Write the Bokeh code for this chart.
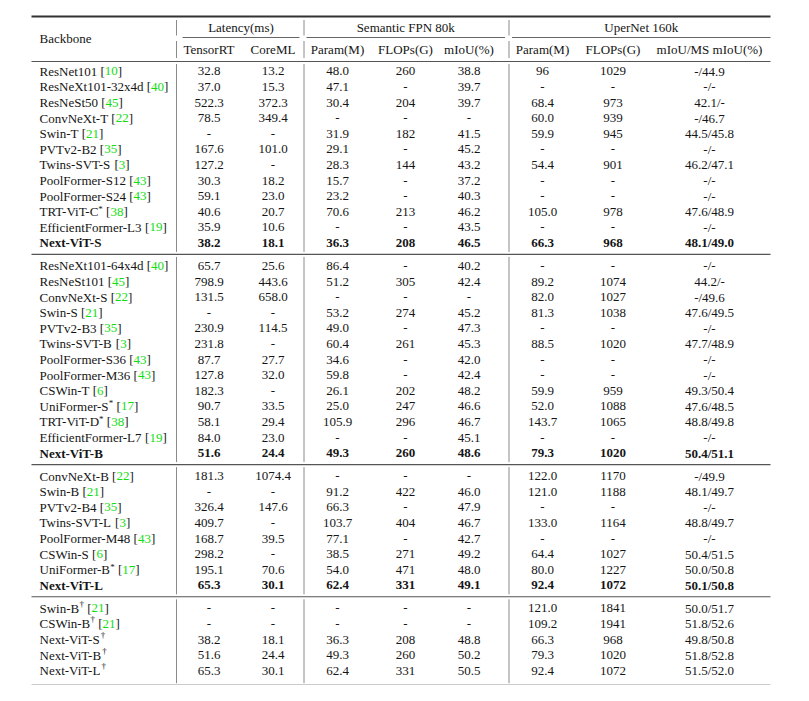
from bokeh.plotting import figure
from bokeh.models import Range1d
from bokeh.embed import file_html
from bokeh.resources import INLINE
from bokeh.core.properties import value

# ---------------- data ----------------
names = [
    "ResNet101", "ResNeXt101-32x4d", "ResNeSt50", "ConvNeXt-T", "Swin-T", "PVTv2-B2",
    "Twins-SVT-S", "PoolFormer-S12", "PoolFormer-S24", "TRT-ViT-C", "EfficientFormer-L3", "Next-ViT-S",
    "ResNeXt101-64x4d", "ResNeSt101", "ConvNeXt-S", "Swin-S", "PVTv2-B3", "Twins-SVT-B",
    "PoolFormer-S36", "PoolFormer-M36", "CSWin-T", "UniFormer-S", "TRT-ViT-D", "EfficientFormer-L7", "Next-ViT-B",
    "ConvNeXt-B", "Swin-B", "PVTv2-B4", "Twins-SVT-L", "PoolFormer-M48", "CSWin-S", "UniFormer-B", "Next-ViT-L",
    "Swin-B", "CSWin-B", "Next-ViT-S", "Next-ViT-B", "Next-ViT-L",
]
marks = [
    "", "", "", "", "", "", "", "", "", "*", "", "",
    "", "", "", "", "", "", "", "", "", "*", "*", "", "",
    "", "", "", "", "", "", "*", "",
    "\u2020", "\u2020", "\u2020", "\u2020", "\u2020",
]
cites = [
    "10", "40", "45", "22", "21", "35", "3", "43", "43", "38", "19", "",
    "40", "45", "22", "21", "35", "3", "43", "43", "6", "17", "38", "19", "",
    "22", "21", "35", "3", "43", "6", "17", "",
    "21", "21", "", "", "",
]
groups = [0] * 12 + [1] * 13 + [2] * 8 + [3] * 5
bold = [False] * 11 + [True] + [False] * 12 + [True] + [False] * 7 + [True] + [False] * 5

tensorrt = ["32.8", "37.0", "522.3", "78.5", "-", "167.6", "127.2", "30.3", "59.1", "40.6", "35.9", "38.2",
            "65.7", "798.9", "131.5", "-", "230.9", "231.8", "87.7", "127.8", "182.3", "90.7", "58.1", "84.0", "51.6",
            "181.3", "-", "326.4", "409.7", "168.7", "298.2", "195.1", "65.3",
            "-", "-", "38.2", "51.6", "65.3"]
coreml = ["13.2", "15.3", "372.3", "349.4", "-", "101.0", "-", "18.2", "23.0", "20.7", "10.6", "18.1",
          "25.6", "443.6", "658.0", "-", "114.5", "-", "27.7", "32.0", "-", "33.5", "29.4", "23.0", "24.4",
          "1074.4", "-", "147.6", "-", "39.5", "-", "70.6", "30.1",
          "-", "-", "18.1", "24.4", "30.1"]
fpn_param = ["48.0", "47.1", "30.4", "-", "31.9", "29.1", "28.3", "15.7", "23.2", "70.6", "-", "36.3",
             "86.4", "51.2", "-", "53.2", "49.0", "60.4", "34.6", "59.8", "26.1", "25.0", "105.9", "-", "49.3",
             "-", "91.2", "66.3", "103.7", "77.1", "38.5", "54.0", "62.4",
             "-", "-", "36.3", "49.3", "62.4"]
fpn_flops = ["260", "-", "204", "-", "182", "-", "144", "-", "-", "213", "-", "208",
             "-", "305", "-", "274", "-", "261", "-", "-", "202", "247", "296", "-", "260",
             "-", "422", "-", "404", "-", "271", "471", "331",
             "-", "-", "208", "260", "331"]
fpn_miou = ["38.8", "39.7", "39.7", "-", "41.5", "45.2", "43.2", "37.2", "40.3", "46.2", "43.5", "46.5",
            "40.2", "42.4", "-", "45.2", "47.3", "45.3", "42.0", "42.4", "48.2", "46.6", "46.7", "45.1", "48.6",
            "-", "46.0", "47.9", "46.7", "42.7", "49.2", "48.0", "49.1",
            "-", "-", "48.8", "50.2", "50.5"]
up_param = ["96", "-", "68.4", "60.0", "59.9", "-", "54.4", "-", "-", "105.0", "-", "66.3",
            "-", "89.2", "82.0", "81.3", "-", "88.5", "-", "-", "59.9", "52.0", "143.7", "-", "79.3",
            "122.0", "121.0", "-", "133.0", "-", "64.4", "80.0", "92.4",
            "121.0", "109.2", "66.3", "79.3", "92.4"]
up_flops = ["1029", "-", "973", "939", "945", "-", "901", "-", "-", "978", "-", "968",
            "-", "1074", "1027", "1038", "-", "1020", "-", "-", "959", "1088", "1065", "-", "1020",
            "1170", "1188", "-", "1164", "-", "1027", "1227", "1072",
            "1841", "1941", "968", "1020", "1072"]
up_miou = ["-/44.9", "-/-", "42.1/-", "-/46.7", "44.5/45.8", "-/-", "46.2/47.1", "-/-", "-/-", "47.6/48.9", "-/-", "48.1/49.0",
           "-/-", "44.2/-", "-/49.6", "47.6/49.5", "-/-", "47.7/48.9", "-/-", "-/-", "49.3/50.4", "47.6/48.5", "48.8/49.8", "-/-", "50.4/51.1",
           "-/49.9", "48.1/49.7", "-/-", "48.8/49.7", "-/-", "50.4/51.5", "50.0/50.8", "50.1/50.8",
           "50.0/51.7", "51.8/52.6", "49.8/50.8", "51.8/52.8", "51.5/52.0"]

group_headers = ["Latency(ms)", "Semantic FPN 80k", "UperNet 160k"]
col_headers = ["TensorRT", "CoreML", "Param(M)", "FLOPs(G)", "mIoU(%)", "Param(M)", "FLOPs(G)", "mIoU/MS mIoU(%)"]
stub_header = "Backbone"

# ---------------- layout ----------------
FONT = value("Liberation Serif")
FS = 13.0
SUP_FS = 9.0
TXT = "#151515"
GREEN = "#11dd11"

col_x = [208.5, 272.5, 337.0, 405.0, 468.5, 542.0, 612.5, 709.0]
name_x = 39.0
ROW_H, Y0, GAP = 15.6, 70.8, 7.4
LEFT, RIGHT = 31.0, 770.0
vlines_x = [176.0, 303.5, 508.5]
cmid = [(182.0, 299.0), (306.0, 504.5), (511.5, 770.0)]

row_y = [Y0 + i * ROW_H + g * GAP for i, g in enumerate(groups)]

# Times-Roman widths (Liberation Serif is metric compatible) + main kerning pairs
_W = {' ': 250, '(': 333, ')': 333, '*': 500, '-': 333, '.': 250, '/': 278, '[': 333, ']': 333,
      '%': 833, '\u2020': 500}
_W.update({d: 500 for d in "0123456789"})
_W.update(dict(zip("ABCDEFGHIJKLMNOPQRSTUVWXYZ",
                   [722, 667, 667, 722, 611, 556, 722, 722, 333, 389, 722, 611, 889, 722, 722, 556, 722, 667,
                    556, 611, 722, 722, 944, 722, 722, 611])))
_W.update(dict(zip("abcdefghijklmnopqrstuvwxyz",
                   [444, 500, 444, 500, 444, 333, 500, 500, 278, 278, 500, 278, 778, 500, 500, 500, 500, 333,
                    389, 278, 500, 500, 722, 500, 500, 444])))
_K = {"TR": -100, "RT": -120, "Vi": -60, "T-": -20, "Wi": -40, "Fo": -15, "Tw": -80, "Ti": -35}


def tw(s, fs):
    w = sum(_W.get(c, 500) for c in s)
    w += sum(_K.get(s[k:k + 2], 0) for k in range(len(s) - 1))
    return w * fs / 1000.0


p = figure(width=790, height=685, x_range=Range1d(0, 790), y_range=Range1d(685, 0),
           output_backend="svg", toolbar_location=None, min_border=0,
           x_axis_type=None, y_axis_type=None)
p.xgrid.visible = False
p.ygrid.visible = False
p.outline_line_color = None
p.background_fill_color = "white"
p.border_fill_color = "white"

# ---------------- rules ----------------
starts = [i for i in range(len(groups)) if i == 0 or groups[i] != groups[i - 1]]
ends = [i for i in range(len(groups)) if i == len(groups) - 1 or groups[i] != groups[i + 1]]
top_rule = 16.0
header_rule = 61.0
bottom_rule = row_y[-1] + 15.0
mid_rules = [(row_y[ends[k]] + row_y[starts[k + 1]]) / 2.0 for k in range(len(ends) - 1)]

p.segment(x0=[LEFT, LEFT], x1=[RIGHT, RIGHT], y0=[top_rule, bottom_rule], y1=[top_rule, bottom_rule],
          line_color="#333333", line_width=1.8)
p.segment(x0=[LEFT] * (len(mid_rules) + 1), x1=[RIGHT] * (len(mid_rules) + 1),
          y0=[header_rule] + mid_rules, y1=[header_rule] + mid_rules,
          line_color="#555555", line_width=1.1)
p.segment(x0=[a for a, b in cmid], x1=[b for a, b in cmid], y0=[37.0] * 3, y1=[37.0] * 3,
          line_color="#666666", line_width=1.0)

# vertical lines
bounds = [header_rule] + mid_rules + [bottom_rule]
vx0, vy0, vy1 = [], [], []
for x in vlines_x:
    for a, b in [(19.5, 35.0), (40.5, 57.5)]:
        vx0.append(x); vy0.append(a); vy1.append(b)
    for k in range(len(bounds) - 1):
        vx0.append(x); vy0.append(bounds[k] + 2.5); vy1.append(bounds[k + 1] - 2.5)
p.segment(x0=vx0, x1=vx0, y0=vy0, y1=vy1, line_color="#8a8a8a", line_width=1.0)

# ---------------- headers ----------------
p.text(x=[name_x], y=[38.0], text=[stub_header], text_font=FONT, text_font_size="13px",
       text_color=TXT, text_align="left", text_baseline="middle")
p.text(x=[(a + b) / 2.0 for a, b in cmid], y=[27.0] * 3, text=group_headers, text_font=FONT,
       text_font_size="13px", text_color=TXT, text_align="center", text_baseline="middle")
p.text(x=col_x, y=[48.5] * len(col_x), text=col_headers, text_font=FONT, text_font_size="13px",
       text_color=TXT, text_align="center", text_baseline="middle")

# ---------------- cells ----------------
columns = [tensorrt, coreml, fpn_param, fpn_flops, fpn_miou, up_param, up_flops, up_miou]
for style in ("normal", "bold"):
    cx, cy, ct = [], [], []
    for j, col in enumerate(columns):
        for i, v in enumerate(col):
            if bold[i] == (style == "bold"):
                cx.append(col_x[j]); cy.append(row_y[i]); ct.append(v)
    p.text(x=cx, y=cy, text=ct, text_font=FONT, text_font_size="13px", text_color=TXT,
           text_align="center", text_baseline="middle", text_font_style=style)

# backbone names
for style in ("normal", "bold"):
    idx = [i for i in range(len(names)) if bold[i] == (style == "bold")]
    p.text(x=[name_x] * len(idx), y=[row_y[i] for i in idx], text=[names[i] for i in idx],
           text_font=FONT, text_font_size="13px", text_color=TXT, text_align="left",
           text_baseline="middle", text_font_style=style)

sx, sy, st = [], [], []
bx, by, bt = [], [], []
gx, gy, gt = [], [], []
for i, nm in enumerate(names):
    x = name_x + tw(nm, FS)
    if marks[i]:
        raise_px = 3.0 if marks[i] == "*" else 4.6
        sx.append(x + 0.2); sy.append(row_y[i] - raise_px); st.append(marks[i])
        x += 0.2 + tw(marks[i], SUP_FS)
    if cites[i]:
        x += tw(" ", FS)
        bx.append(x); by.append(row_y[i]); bt.append("[")
        x += tw("[", FS)
        gx.append(x); gy.append(row_y[i]); gt.append(cites[i])
        x += tw(cites[i], FS)
        bx.append(x); by.append(row_y[i]); bt.append("]")

p.text(x=sx, y=sy, text=st, text_font=FONT, text_font_size="9px", text_color=TXT,
       text_align="left", text_baseline="middle")
p.text(x=bx, y=by, text=bt, text_font=FONT, text_font_size="13px", text_color=TXT,
       text_align="left", text_baseline="middle")
p.text(x=gx, y=gy, text=gt, text_font=FONT, text_font_size="13px", text_color=GREEN,
       text_align="left", text_baseline="middle")

open("out.html", "w").write(file_html(p, INLINE))
